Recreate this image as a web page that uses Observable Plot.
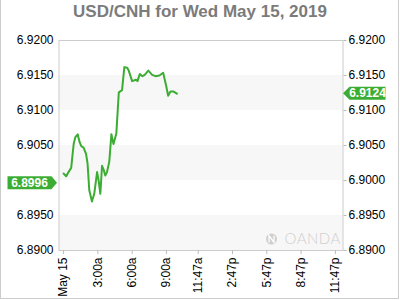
<!DOCTYPE html>
<html>
<head>
<meta charset="utf-8">
<script src="https://cdn.jsdelivr.net/npm/d3@7"></script>
<script src="https://cdn.jsdelivr.net/npm/@observablehq/plot@0.6"></script>
<style>
  html, body { margin: 0; padding: 0; background: #fff; }
  body { width: 400px; height: 300px; position: relative; overflow: hidden; font-family: "Liberation Sans", Arial, sans-serif; }
  #border { position: absolute; left: 0; top: 0; width: 397px; height: 298px; border-left: 1px solid #cccccc; border-right: 1px solid #cccccc; border-bottom: 1px solid #cccccc; }
  #title { position: absolute; left: 0; top: 0; width: 400px; height: 24px; line-height: 24px; text-align: center; font-weight: bold; font-size: 17px; color: #7b7b7b; }
  #chart { position: absolute; left: 0; top: 24px; }
</style>
</head>
<body>
<div id="border"></div>
<div id="title">USD/CNH for Wed May 15, 2019</div>
<div id="chart"></div>
<script>
// Time of day (HH:MM) and USD/CNH price
const times = ["0:00","0:14","0:26","0:40","0:53","1:02","1:14","1:24","1:33","1:45","1:58","2:06","2:15","2:29","2:41","2:56","3:04","3:13","3:22","3:32","3:39","3:48","4:00","4:11","4:22","4:37","4:50","5:07","5:19","5:34","5:42","6:00","6:20","6:28","6:40","6:54","7:06","7:25","7:45","8:02","8:23","8:43","8:58","9:09","9:21","9:38","9:55"];
const prices = [6.9010,6.9006,6.9012,6.9018,6.9052,6.9062,6.9066,6.9055,6.9049,6.9047,6.9038,6.9024,6.8986,6.8970,6.8981,6.9012,6.9000,6.8981,6.9021,6.9014,6.9007,6.9012,6.9027,6.9066,6.9052,6.9067,6.9126,6.9129,6.9162,6.9161,6.9157,6.9142,6.9144,6.9142,6.9152,6.9149,6.9151,6.9157,6.9151,6.9149,6.9150,6.9154,6.9136,6.9121,6.9127,6.9127,6.9124];

const xTickTimes = ["0:00","3:00","6:00","9:00","11:47","14:47","17:47","20:47","23:47"];
const xTickLabels = ["May 15","3:00a","6:00a","9:00a","11:47a","2:47p","5:47p","8:47p","11:47p"];
const yTicksLeft = [6.8900,6.8950,6.9050,6.9100,6.9150,6.9200];
const yTicksRight = [6.8900,6.8950,6.9000,6.9050,6.9100,6.9150,6.9200];
const bandLow = [6.8900,6.9000,6.9100];
const bandHigh = [6.8950,6.9050,6.9150];
const openValue = 6.8996;
const lastValue = 6.9124;

const toMin = s => { const [h, m] = s.split(":").map(Number); return h * 60 + m; };
const data = times.map((t, i) => ({t: toMin(t), v: prices[i]}));
const bands = bandLow.map((lo, i) => ({lo, hi: bandHigh[i]}));
const xTicks = xTickTimes.map(toMin);
const labelOf = new Map(xTicks.map((m, i) => [m, xTickLabels[i]]));

const green = "#3cad33";

function tagMark(value, side) {
  return (index, scales, values, dim) => {
    const y = scales.y(value);
    const g = d3.create("svg:g");
    const h = 13;
    let path, tx;
    if (side === "left") {
      const x0 = 7.5, x1 = 51.5, tip = dim.marginLeft - 1.5;
      path = `M${x0},${y - h/2}H${x1}L${tip},${y}L${x1},${y + h/2}H${x0}Z`;
      tx = (x0 + x1) / 2;
    } else {
      const tip = dim.width - dim.marginRight + 0.5, x0 = tip + 6.5, x1 = 385.5;
      path = `M${tip},${y}L${x0},${y - h/2}H${x1}V${y + h/2}H${x0}Z`;
      tx = (x0 + x1) / 2;
    }
    g.append("path").attr("d", path).attr("fill", green);
    g.append("text").attr("x", tx).attr("y", y).attr("dy", "0.35em")
      .attr("text-anchor", "middle").attr("fill", "white")
      .attr("font-weight", "bold").attr("font-size", 12)
      .attr("font-family", "'Liberation Sans', Arial, sans-serif")
      .text(value.toFixed(4));
    return g.node();
  };
}

function watermark(index, scales, values, dim) {
  const g = d3.create("svg:g");
  const cx = 271.5, cy = dim.height - dim.marginBottom - 11;
  g.append("circle").attr("cx", cx).attr("cy", cy).attr("r", 5.5).attr("fill", "#cfcfcf");
  g.append("path").attr("d", `M${cx-2.5},${cy+3.5}V${cy-3.5}L${cx+2.5},${cy+3.5}V${cy-3.5}`)
    .attr("stroke", "#fff").attr("stroke-width", 1.3).attr("fill", "none");
  g.append("text").attr("x", 284.5).attr("y", cy).attr("dy", "0.36em")
    .attr("text-anchor", "start")
    .attr("fill", "#cfcfcf").attr("font-size", 15).attr("font-weight", 300)
    .attr("font-family", "Lato, 'Open Sans', sans-serif").attr("letter-spacing", "0.5")
    .text("OANDA");
  return g.node();
}

const chart = Plot.plot({
  width: 400,
  height: 276,
  marginTop: 16,
  marginBottom: 50,
  marginLeft: 58.5,
  marginRight: 57.5,
  style: {fontFamily: "'Liberation Sans', Arial, sans-serif", fontSize: "12px", color: "#000", background: "transparent"},
  x: {type: "linear", domain: [-24, 1467]},
  y: {domain: [6.89, 6.92]},
  marks: [
    Plot.rect(bands, {y1: "lo", y2: "hi", fill: "#f7f7f7"}),
    watermark,
    Plot.frame({stroke: "#cccccc"}),
    Plot.axisY({anchor: "left", ticks: yTicksLeft, tickFormat: d => d.toFixed(4), tickSize: 0, tickPadding: 5.5, label: null, fill: "#000"}),
    Plot.axisY({anchor: "right", ticks: yTicksRight, tickFormat: d => d.toFixed(4), tickSize: 3, tickPadding: 2.5, stroke: "#bbbbbb", label: null, fill: "#000"}),
    Plot.axisX({anchor: "bottom", ticks: xTicks, tickFormat: d => labelOf.get(d), tickRotate: -90, tickSize: 4, tickPadding: 3, stroke: "#bbbbbb", label: null, fill: "#000"}),
    Plot.line(data, {x: "t", y: "v", stroke: green, strokeWidth: 2, strokeLinejoin: "round"}),
    tagMark(openValue, "left"),
    tagMark(lastValue, "right")
  ]
});
document.getElementById("chart").appendChild(chart);
</script>
</body>
</html>
